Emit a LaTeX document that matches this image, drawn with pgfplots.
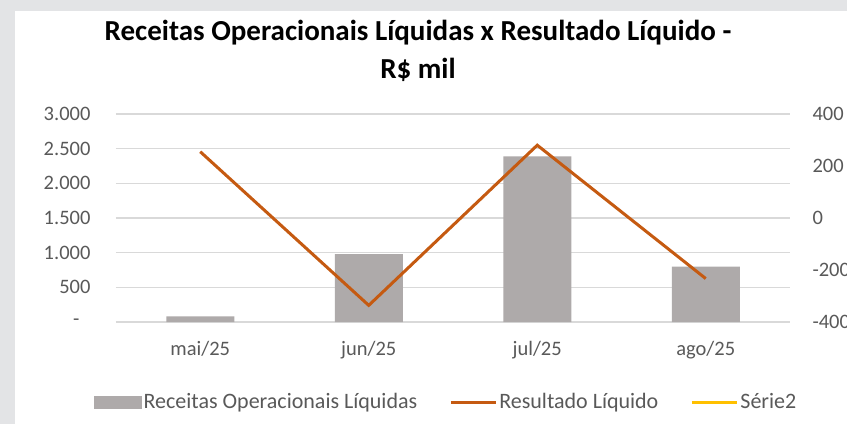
\documentclass[border=0pt]{standalone}
\usepackage{fontspec}
\setmainfont{Carlito}
\usepackage{pgfplots}
\pgfplotsset{compat=1.18}
\definecolor{bgc}{HTML}{E3E4E6}
\definecolor{barc}{HTML}{AEAAAA}
\definecolor{linec}{HTML}{C55A11}
\definecolor{ser2}{HTML}{FFC000}
\definecolor{gridc}{HTML}{D9D9D9}
\definecolor{txt}{HTML}{595959}
\begin{document}
\begin{tikzpicture}[x=1pt,y=1pt]
\useasboundingbox (0,0) rectangle (847,424);
\fill[bgc] (0,0) rectangle (847,424);
\fill[white] (15,0) rectangle (847,413);
\node[font=\fontsize{29}{38}\selectfont\bfseries, align=center, text=black] at (418,373) {Receitas Operacionais Líquidas x Resultado Líquido -\\R\$ mil};
\begin{axis}[
  at={(116pt,102pt)}, anchor=south west, scale only axis,
  width=674pt, height=208pt,
  xmin=-0.5, xmax=3.5, ymin=0, ymax=3000,
  ytick={0,500,1000,1500,2000,2500,3000},
  yticklabels={{-\kern11pt},500,1.000,1.500,2.000,2.500,3.000},
  xtick={0,1,2,3},
  xticklabels={mai/25,jun/25,jul/25,ago/25},
  axis line style={draw=none},
  ymajorgrids, grid style={gridc, line width=1.2pt},
  major tick length=0pt,
  tick label style={font=\fontsize{20.5}{20.5}\selectfont, text=txt},
  yticklabel style={xshift=-22pt},
  xticklabel style={yshift=-16pt},
  /pgf/number format/assume math mode=true,
]
\addplot[ybar, bar width=68pt, fill=barc, draw=none] coordinates {(0,80) (1,980) (2,2390) (3,800)};
\end{axis}
\begin{axis}[
  at={(116pt,102pt)}, anchor=south west, scale only axis,
  width=674pt, height=208pt,
  xmin=-0.5, xmax=3.5, ymin=-400, ymax=400,
  ytick={-400,-200,0,200,400},
  axis y line*=right, hide x axis,
  axis line style={draw=none},
  major tick length=0pt,
  tick label style={font=\fontsize{20.5}{20.5}\selectfont, text=txt},
  yticklabel style={xshift=19pt},
  /pgf/number format/assume math mode=true,
  legend columns=-1,
  legend style={at={(0.49,-0.385)}, anchor=center, draw=none, fill=none,
    font=\fontsize{22}{22}\selectfont, text=txt,
    /tikz/every even column/.append style={column sep=30pt}},
]
\addlegendimage{legend image code/.code={\fill[barc] (0pt,-6pt) rectangle (47pt,6pt);}}
\addlegendentry{Receitas Operacionais Líquidas}
\addplot[linec, line width=3pt, legend image code/.code={\draw[linec, line width=3pt] (0pt,0pt) -- (45pt,0pt);}] coordinates {(0,255) (1,-336) (2,280) (3,-233)};
\addlegendentry{Resultado Líquido}
\addlegendimage{legend image code/.code={\draw[ser2, line width=3pt] (0pt,0pt) -- (45pt,0pt);}}
\addlegendentry{Série2}
\end{axis}
\end{tikzpicture}
\end{document}
